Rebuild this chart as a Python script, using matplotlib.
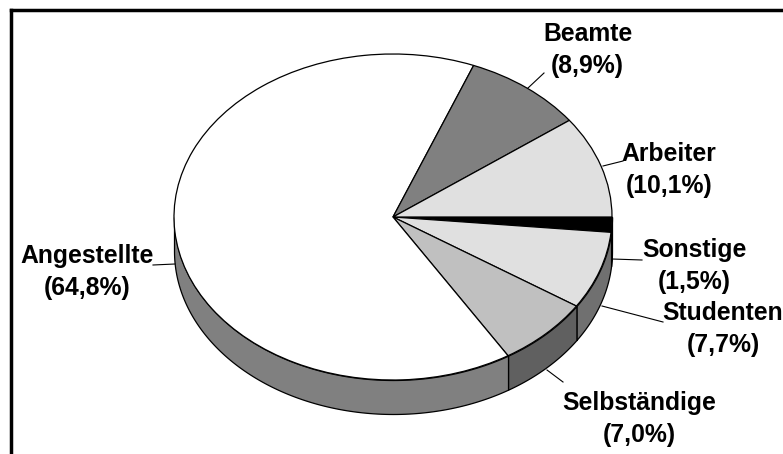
#!/usr/bin/env python3
# -*- coding: utf-8 -*-
"""Tilted pie chart of occupational groups, with a drawn rim and leader lines."""
import numpy as np
import matplotlib
matplotlib.use("Agg")
import matplotlib.pyplot as plt

W, H = 783, 454

# slices run clockwise from 3 o'clock
labels = ["Sonstige", "Studenten", "Selbständige", "Angestellte", "Beamte", "Arbeiter"]
shares = [1.5, 7.7, 7.0, 64.8, 8.9, 10.1]
top_colors = ["#000000", "#e0e0e0", "#c0c0c0", "#ffffff", "#808080", "#e0e0e0"]
rim_colors = ["#000000", "#707070", "#606060", "#808080", "#808080", "#707070"]

# label centres and leader lines, in pixels from the top left
label_pos = [(694, 266), (723, 329), (639.5, 419), (87, 272), (587.5, 50), (669, 170)]
leaders = [
    ((612, 259), (642, 260)),
    ((602, 306), (663, 322)),
    ((547, 370), (563, 382)),
    ((175, 264), (153, 265)),
    ((528, 88), (544, 73)),
    ((603, 166), (623, 161)),
]

# pie geometry in pixels
CX, CY = 393, 217
RX, RY = 219, 163
DEPTH = 34 / RY
LEFT, TOP = 10.5, 10


def px(x, y):
    """Pixel position to data coordinates of the unit pie."""
    return (x - CX) / RX, (CY - y) / RY


plt.rcParams["font.family"] = ["Liberation Sans", "DejaVu Sans"]
fig = plt.figure(figsize=(W / 100, H / 100), dpi=100)
ax = fig.add_axes([LEFT / W, 0, 1 - LEFT / W, 1 - TOP / H])

ax.pie(shares, colors=top_colors, startangle=0, counterclock=False, radius=1,
       wedgeprops={"edgecolor": "black", "linewidth": 0.9})

# rim: only the part of each slice on the front half is visible
edges = -3.6 * np.cumsum([0] + shares)
for start, end, col in zip(edges[:-1], edges[1:], rim_colors):
    lo, hi = max(end, -180), min(start, 0)
    if lo >= hi:
        continue
    t = np.radians(np.linspace(lo, hi, 120))
    ax.fill_between(np.cos(t), np.sin(t), np.sin(t) - DEPTH,
                    facecolor=col, edgecolor="black", linewidth=0.9, zorder=0.5)

for (a, b) in leaders:
    (x0, y0), (x1, y1) = px(*a), px(*b)
    ax.plot([x0, x1], [y0, y1], color="black", linewidth=0.8, zorder=3)

for name, share, pos in zip(labels, shares, label_pos):
    x, y = px(*pos)
    text = f"{name}\n({share:.1f}%)".replace(".", ",")
    ax.text(x, y, text, ha="center", va="center", fontsize=17.8,
            fontweight="bold", linespacing=1.4, zorder=4)

ax.set_xlim(px(LEFT, 0)[0], px(W, 0)[0])
ax.set_ylim(px(0, H)[1], px(0, TOP)[1])
ax.set_aspect("auto")

# heavy frame on the left and top only
ax.set_frame_on(True)
ax.spines["left"].set_linewidth(2.5)
ax.spines["top"].set_linewidth(2.5)
ax.spines["right"].set_visible(False)
ax.spines["bottom"].set_visible(False)

fig.savefig("out.png", dpi=100)
